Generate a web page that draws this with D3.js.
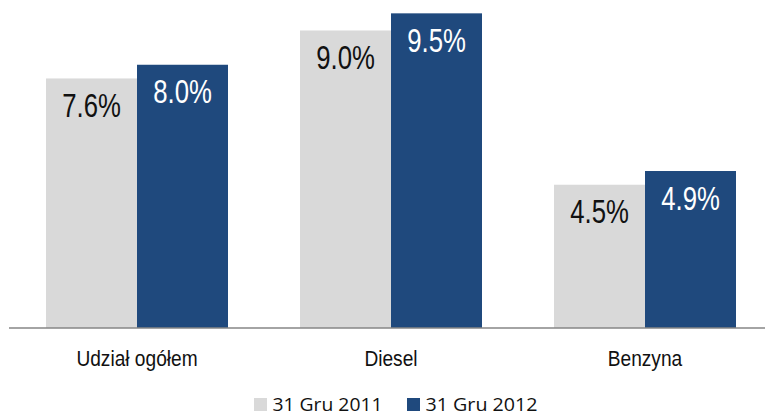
<!DOCTYPE html>
<html>
<head>
<meta charset="utf-8">
<script src="https://cdn.jsdelivr.net/npm/d3@7"></script>
<style>
  html, body { margin: 0; padding: 0; background: #fff; }
  svg { display: block; }
</style>
</head>
<body>
<svg id="chart" width="765" height="415"></svg>
<script>
const categories = ["Udział ogółem", "Diesel", "Benzyna"];
const seriesNames = ["31 Gru 2011", "31 Gru 2012"];
const values2011 = [7.6, 9.0, 4.5];
const values2012 = [8.0, 9.5, 4.9];
const valueLabels2011 = ["7.6%", "9.0%", "4.5%"];
const valueLabels2012 = ["8.0%", "9.5%", "4.9%"];
const colors = ["#D9D9D9", "#1F497D"];
const labelColors = ["#111111", "#ffffff"];

const svg = d3.select("#chart");
const baseY = 328;

const x = d3.scaleBand().domain(categories).range([10, 772])
  .paddingInner(0.2835).paddingOuter(0.2835 / 2);
const xs = d3.scaleBand().domain(seriesNames).range([0, x.bandwidth()]).padding(0);
const y = d3.scaleLinear().domain([0.32, 10]).range([baseY, -3.8]);

const rows = [];
categories.forEach((c, i) => {
  rows.push({cat: c, s: seriesNames[0], v: values2011[i], lab: valueLabels2011[i], si: 0});
  rows.push({cat: c, s: seriesNames[1], v: values2012[i], lab: valueLabels2012[i], si: 1});
});

svg.append("g").selectAll("rect").data(rows).join("rect")
  .attr("x", d => x(d.cat) + xs(d.s))
  .attr("y", d => y(d.v))
  .attr("width", xs.bandwidth())
  .attr("height", d => baseY - y(d.v))
  .attr("fill", d => colors[d.si]);

svg.append("g").selectAll("text").data(rows).join("text")
  .attr("transform", d => `translate(${x(d.cat) + xs(d.s) + xs.bandwidth() / 2},${y(d.v) + 38.5}) scale(0.78,1)`)
  .attr("text-anchor", "middle")
  .attr("font-family", "'Liberation Sans', Arial, sans-serif")
  .attr("font-size", 33)
  .attr("fill", d => labelColors[d.si])
  .text(d => d.lab);

// axis
const axis = d3.axisBottom(x).tickSize(0).tickPadding(0);
const ax = svg.append("g").attr("transform", `translate(0,${baseY})`).call(axis);
ax.select(".domain").attr("d", `M9,0H765`).attr("stroke", "#868686").attr("stroke-width", 1.5);
ax.selectAll(".tick text")
  .attr("y", 0).attr("dy", 0)
  .attr("transform", "translate(0,38) scale(0.87,1)")
  .attr("font-family", "'Liberation Sans', Arial, sans-serif")
  .attr("font-size", 22)
  .attr("fill", "#111");

// legend
const legendX = [254, 407];
const legendTextLen = [110, 112];
const lg = svg.append("g").selectAll("g").data(seriesNames).join("g")
  .attr("transform", (d, i) => `translate(${legendX[i]},398)`);
lg.append("rect").attr("width", 13).attr("height", 13).attr("fill", (d, i) => colors[i]);
lg.append("text").attr("x", 18.5).attr("y", 12.5)
  .attr("font-family", "'Open Sans', sans-serif")
  .attr("font-size", 18)
  .attr("textLength", (d, i) => legendTextLen[i])
  .attr("lengthAdjust", "spacingAndGlyphs")
  .attr("fill", "#111")
  .text(d => d);
</script>
</body>
</html>
